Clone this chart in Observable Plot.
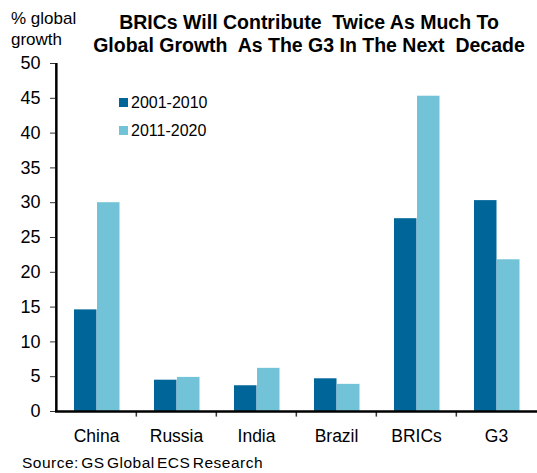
<!DOCTYPE html>
<html>
<head>
<meta charset="utf-8">
<script src="https://cdn.jsdelivr.net/npm/d3@7"></script>
<script src="https://cdn.jsdelivr.net/npm/@observablehq/plot@0.6"></script>
<style>
  body { margin: 0; background: #fff; font-family: "Liberation Sans", Arial, sans-serif; }
  #wrap { position: relative; width: 537px; height: 473px; overflow: hidden; }
  .abs { position: absolute; white-space: nowrap; color: #000; }
  #title { left: 59px; width: 500px; top: 11px; text-align: center; font-weight: bold; font-size: 19.5px; line-height: 23px; }
  #ylab { left: 11px; top: 8px; font-size: 17px; line-height: 21px; }
  #source { left: 22px; top: 454px; font-size: 15.5px; letter-spacing: 0.5px; word-spacing: -2.5px; }
  .leg { font-size: 16px; line-height: 16px; }
  .sw { display: inline-block; width: 9px; height: 9px; margin-right: 3px; vertical-align: 1px; }
</style>
</head>
<body>
<div id="wrap">
  <div id="chart"></div>
  <div id="title" class="abs">BRICs Will Contribute&nbsp; Twice As Much To<br>Global Growth&nbsp; As The G3 In The Next&nbsp; Decade</div>
  <div id="ylab" class="abs">% global<br>growth</div>
  <div id="source" class="abs">Source: GS Global ECS Research</div>
  <div id="legend"></div>
</div>
<script>
const categories = ["China", "Russia", "India", "Brazil", "BRICs", "G3"];
const series = ["2001-2010", "2011-2020"];
const values2001 = [14.6, 4.5, 3.7, 4.7, 27.7, 30.3];
const values2011 = [30.0, 4.9, 6.2, 3.9, 45.3, 21.8];
const yTicks = [0, 5, 10, 15, 20, 25, 30, 35, 40, 45, 50];
const colors = ["#006699", "#72C3D8"];

const data = [];
categories.forEach((c, i) => {
  data.push({cat: c, series: series[0], value: values2001[i]});
  data.push({cat: c, series: series[1], value: values2011[i]});
});

const W = 537, H = 473;
const chart = Plot.plot({
  width: W,
  height: H,
  marginLeft: 55,
  marginRight: 0,
  marginTop: 63,
  marginBottom: 62,
  style: {fontFamily: "'Liberation Sans', Arial, sans-serif", fontSize: "18px", color: "#000", background: "#fff"},
  x: {domain: categories, padding: 0, label: null},
  y: {domain: [0, 50], label: null},
  color: {domain: series, range: colors},
  marks: [
    Plot.barY(data.filter(d => d.series === series[0]), {x: "cat", y: "value", fill: "series", insetLeft: 18, insetRight: 39.5}),
    Plot.barY(data.filter(d => d.series === series[1]), {x: "cat", y: "value", fill: "series", insetLeft: 41, insetRight: 16.5}),
    Plot.axisY({ticks: yTicks, tickSize: 5, tickPadding: 10, stroke: "#333", fontSize: 18, label: null}),
    Plot.axisX({tickSize: 0, tickPadding: 18, fontSize: 17.5, label: null}),
    Plot.ruleX(categories.slice(1), {x: d => d, y1: 0, y2: -0.8, dx: -(W - 55) / categories.length / 2, stroke: "#333", strokeWidth: 1.5}),
    Plot.ruleY([0], {stroke: "#000", strokeWidth: 2.5}),
    Plot.ruleX([categories[0]], {x: d => d, y1: 0, y2: 50, dx: -(W - 55) / categories.length / 2, stroke: "#000", strokeWidth: 2.5})
  ]
});
document.getElementById("chart").appendChild(chart);

// legend
const legend = document.getElementById("legend");
series.forEach((s, i) => {
  const d = document.createElement("div");
  d.className = "abs leg";
  d.style.left = "119px";
  d.style.top = (95 + i * 28) + "px";
  d.innerHTML = `<span class="sw" style="background:${colors[i]}"></span>${s}`;
  legend.appendChild(d);
});
</script>
</body>
</html>
